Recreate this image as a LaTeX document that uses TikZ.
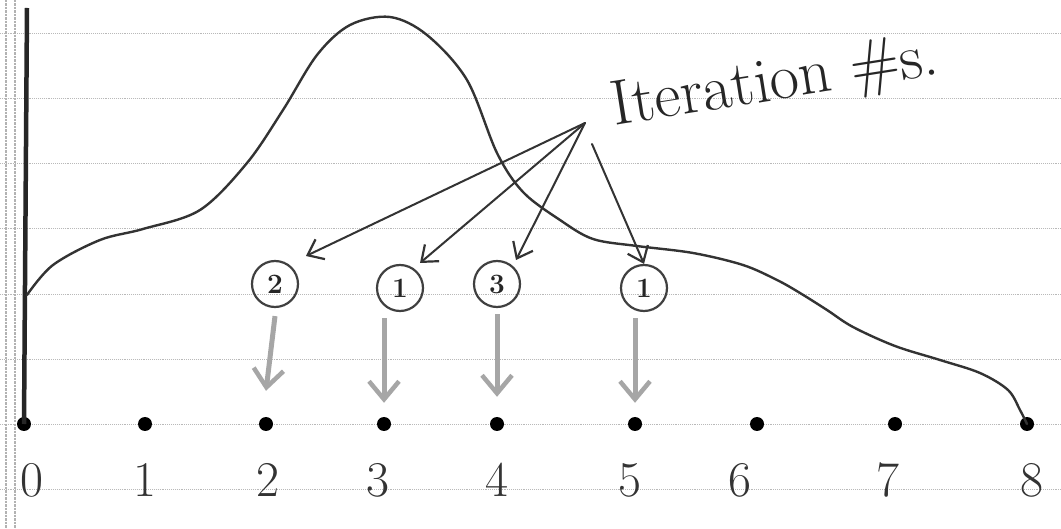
\documentclass[tikz,border=0pt]{standalone}
\usetikzlibrary{arrows.meta}
\begin{document}
\begin{tikzpicture}[x=1pt,y=-1pt,
  rule/.style={gray!55, densely dotted, line width=0.9pt},
  pencil/.style={black!80, line width=2.4pt, line cap=round, line join=round},
  dot/.style={circle, fill=black, inner sep=0pt, minimum size=14pt},
  numlab/.style={font=\fontsize{50}{52}\selectfont, text=black!80, inner sep=0pt},
  iter/.style={circle, draw=black!75, line width=2.2pt, minimum size=46pt, inner sep=0pt, font=\fontsize{28}{30}\selectfont\bfseries, text=black!85},
  down/.style={gray!70, line width=5pt, -{Straight Barb[length=18pt,width=30pt,line width=4.5pt]}},
  pointer/.style={black!80, line width=2pt, line cap=round, -{Straight Barb[length=14pt,width=22pt,line width=2.2pt]}}
]
\fill[white] (0,0) rectangle (1061,529);
\useasboundingbox (0,0) rectangle (1061,529);
% ruled paper
\foreach \yy in {33,98,163,228,294,359,424,489} \draw[rule] (0,\yy) -- (1061,\yy);
\draw[gray!60, densely dotted, line width=2.5pt] (6,0) -- (6,529);
\draw[gray!60, densely dotted, line width=2.5pt] (15,0) -- (15,529);
% axis line
\coordinate (top) at (27,8);
% dots
\foreach \i/\xx in {0/24,1/145,2/266,3/384,4/497,5/635,6/757,7/895,8/1027}
  \node[dot] (d\i) at (\xx,424) {};
\draw[black!85, line width=4.5pt] (top) -- (d0.center);
% labels
\foreach \i/\xx in {0/32,1/145,2/268,3/378,4/497,5/630,6/740,7/888,8/1032}
  \node[numlab] (l\i) at (\xx,480) {\i};
% curve
\draw[pencil] plot[smooth, tension=0.55] coordinates {(27,295) (53,265) (100,240) (143,229) (200,210) (247,163) (283,110) (317,55) (350,25) (390,17) (427,35) (467,80) (497,153) (523,192) (560,220) (593,239) (637,246) (693,253) (743,265) (777,280) (800,293) (827,310) (853,327) (895,346) (940,360) (980,373) (1008,390) (1020,410) (1027,424)};
% circled iteration numbers
\node[iter] (c2) at (275,284) {2};
\node[iter] (c1a) at (400,288) {1};
\node[iter] (c3) at (497,284) {3};
\node[iter] (c1b) at (644,288) {1};
% down arrows
\draw[down] ([yshift=-8pt]c2.south) -- ([yshift=26pt]d2.north);
\draw[down] ([yshift=-6pt]c1a.south -| d3) -- ([yshift=14pt]d3.north);
\draw[down] ([yshift=-6pt]c3.south) -- ([yshift=20pt]d4.north);
\draw[down] ([yshift=-6pt]c1b.south -| d5) -- ([yshift=14pt]d5.north);
% label
\node[rotate=9, font=\fontsize{64}{68}\selectfont, text=black!85] (it) at (775,84) {Iteration \#s.};
\coordinate (p) at (585,123);
\coordinate (q) at (592,144);
\draw[pointer] (p) -- (306,256);
\draw[pointer] (p) -- (420,263);
\draw[pointer] (p) -- (516,260);
\draw[pointer] (q) -- (c1b.north);
\end{tikzpicture}
\end{document}
